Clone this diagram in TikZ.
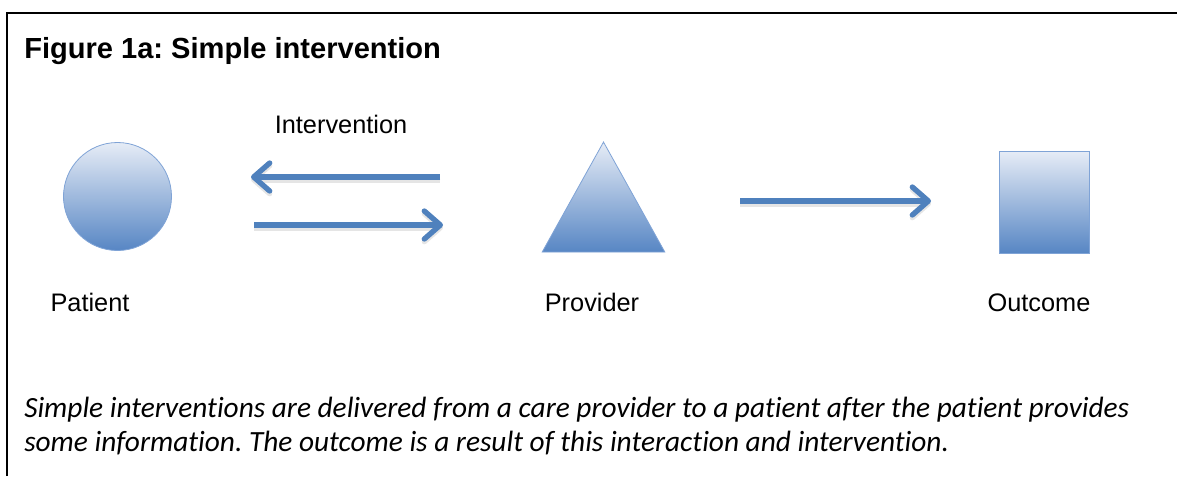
\documentclass[tikz,border=0pt]{standalone}
\usepackage{fontspec}
\setmainfont{Liberation Sans}
\newfontfamily\notefont[Ligatures=NoCommon]{Carlito}
\usetikzlibrary{arrows.meta,positioning,shapes.geometric}
\frenchspacing

\definecolor{shapelight}{HTML}{E6ECF6}
\definecolor{shapedark}{HTML}{5786C4}
\definecolor{edgeblue}{HTML}{7FA3D6}
\definecolor{arrowblue}{HTML}{4F81BD}

\begin{document}
\begin{tikzpicture}[x=0.75pt, y=-0.75pt,
    every node/.style={font=\fontsize{19}{23}\selectfont},
    solid3d/.style={draw=edgeblue, line width=0.6pt, top color=shapelight,
                    bottom color=shapedark, inner sep=0pt},
    flow/.style={draw=arrowblue, line width=4pt,
                 -{Straight Barb[length=12pt, width=21pt, line width=4pt, round]},
                 preaction={draw=black!40, opacity=0.25, line width=5pt,
                            transform canvas={yshift=-2pt}}},
    notetext/.style={anchor=base west, inner sep=0pt,
                     font=\notefont\itshape\fontsize{22}{26}\selectfont}]
  \useasboundingbox (0,0) rectangle (1177,476);

  % Frame (top and left edges)
  \draw[line width=1.6pt] (7,476) -- (7,13) -- (1177,13);

  % Title
  \node[anchor=base west, inner sep=0pt, font=\bfseries\fontsize{21.8}{26}\selectfont]
        (title) at (24,58) {Figure 1a: Simple intervention};

  % Shapes
  \node[solid3d, circle, minimum size=81pt] (patient) at (117.5,196.5) {};
  \node[solid3d, isosceles triangle, shape border rotate=90,
        isosceles triangle stretches, minimum width=92pt, minimum height=82.5pt,
        anchor=apex] (provider) at (603.5,141) {};
  \node[solid3d, rectangle, minimum width=68pt, minimum height=76.5pt]
        (outcome) at (1044.5,202) {};

  % Labels
  \node[anchor=base] (patientlbl)  at (90,311)  {Patient};
  \node[anchor=base] (providerlbl) at (592,311) {Provider};
  \node[anchor=base] (outcomelbl)  at (1039,311) {Outcome};
  \node[anchor=base] (intlbl)      at (341,133) {Intervention};

  % Arrows
  \coordinate (back0) at (440,177);
  \coordinate (back1) at (251,177);
  \coordinate (fwd0)  at (254,225);
  \coordinate (fwd1)  at (443,225);
  \coordinate (res0)  at (740,201);
  \coordinate (res1)  at (931,201);
  \draw[flow] (back0) -- (back1);
  \draw[flow] (fwd0) -- (fwd1);
  \draw[flow] (res0) -- (res1);

  % Caption
  \node[notetext] (note1) at (24,417)
        {Simple interventions are delivered from a care provider to a patient after the patient provides};
  \node[notetext] (note2) at (24,451)
        {some information. The outcome is a result of this interaction and intervention.};
\end{tikzpicture}
\end{document}
